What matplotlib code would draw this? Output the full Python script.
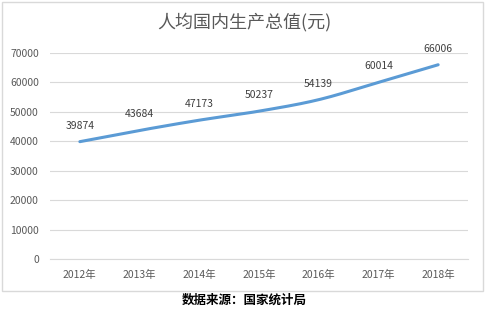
import matplotlib
matplotlib.use("Agg")
import matplotlib.pyplot as plt
import numpy as np
from matplotlib.patches import Rectangle

plt.rcParams['font.family'] = ['Noto Sans CJK SC', 'DejaVu Sans']

years = ["2012年", "2013年", "2014年", "2015年", "2016年", "2017年", "2018年"]
values = [39874, 43684, 47173, 50237, 54139, 60014, 66006]
yticks = [0, 10000, 20000, 30000, 40000, 50000, 60000, 70000]
title = "人均国内生产总值(元)"
source = "数据来源：国家统计局"

W, H = 488, 312
fig = plt.figure(figsize=(W / 100, H / 100), dpi=100)
fig.patch.set_facecolor("white")

# outer chart border
fig.patches.append(Rectangle((2 / W, 1 - 291 / H), 481 / W, 289 / H,
                             transform=fig.transFigure, fill=False,
                             edgecolor="#d9d9d9", linewidth=1))

ax = fig.add_axes([50 / W, 1 - 259 / H, 418 / W, 206 / H])
x = np.arange(len(values))
v = np.array(values, dtype=float)

# Catmull-Rom smoothing for rendering
xs, ys = [], []
for i in range(len(x) - 1):
    p0 = v[i - 1] if i > 0 else 2 * v[i] - v[i + 1]
    p1, p2 = v[i], v[i + 1]
    p3 = v[i + 2] if i + 2 < len(v) else 2 * v[i + 1] - v[i]
    t = np.linspace(0, 1, 30)
    m1 = (p2 - p0) / 2
    m2 = (p3 - p1) / 2
    h00 = 2 * t**3 - 3 * t**2 + 1
    h10 = t**3 - 2 * t**2 + t
    h01 = -2 * t**3 + 3 * t**2
    h11 = t**3 - t**2
    xs.append(x[i] + t)
    ys.append(h00 * p1 + h10 * m1 + h01 * p2 + h11 * m2)
ax.plot(np.concatenate(xs), np.concatenate(ys), color="#5b9bd5", linewidth=2.2,
        solid_capstyle="round", zorder=3)

for xi, vi in zip(x, values):
    ax.annotate(str(vi), (xi, vi), xytext=(0, 8), textcoords="offset points",
                ha="center", va="bottom", fontsize=7.5, color="#404040")

ax.set_xlim(-0.5, len(values) - 0.5)
ax.set_ylim(0, 70000)
ax.set_yticks(yticks)
ax.set_yticklabels([str(t) for t in yticks], fontsize=7.5, color="#595959")
ax.set_xticks(x)
ax.set_xticklabels(years, fontsize=7.5, color="#595959")
ax.grid(axis="y", color="#d9d9d9", linewidth=0.8)
ax.set_axisbelow(True)
for s in ["top", "right", "left"]:
    ax.spines[s].set_visible(False)
ax.spines["bottom"].set_color("#d9d9d9")
ax.spines["bottom"].set_linewidth(0.8)
ax.tick_params(axis="both", length=0, pad=8)

fig.text(0.5, 1 - 22 / H, title, ha="center", va="center", fontsize=13,
         color="#595959", fontweight="light")
fig.text(0.5, 1 - 300 / H, source, ha="center", va="center", fontsize=9,
         color="black", fontweight="bold")

fig.savefig("out.png", dpi=100, facecolor="white")
